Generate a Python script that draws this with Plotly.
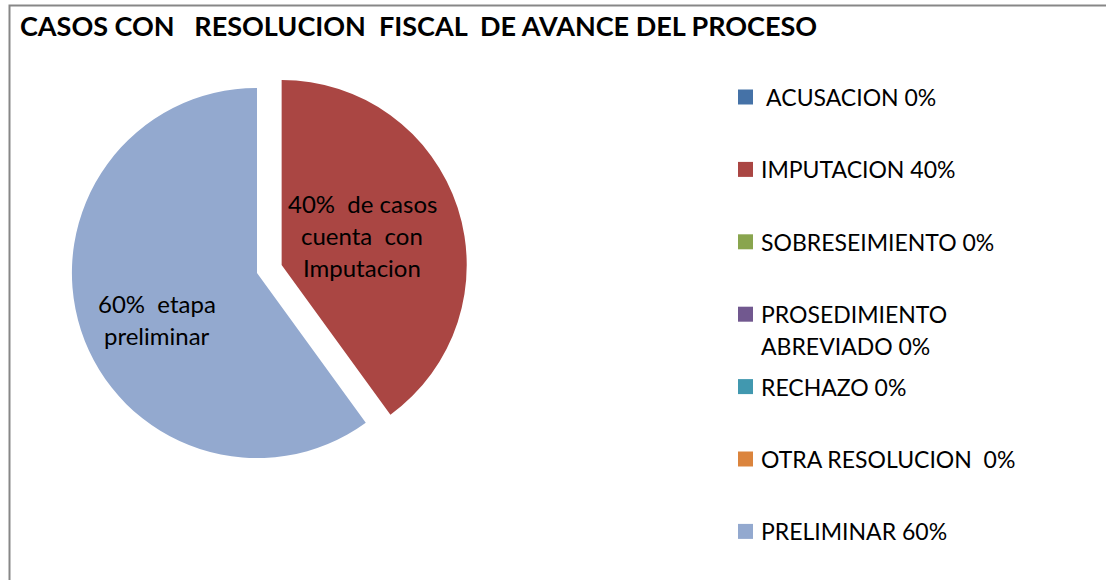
import plotly.graph_objects as go

# ---- data ----
title_text = "CASOS CON   RESOLUCION  FISCAL  DE AVANCE DEL PROCESO"
categories = ["ACUSACION", "IMPUTACION", "SOBRESEIMIENTO", "PROSEDIMIENTO ABREVIADO",
              "RECHAZO", "OTRA RESOLUCION", "PRELIMINAR"]
values = [0, 40, 0, 0, 0, 0, 60]
legend_labels = [" ACUSACION 0%", "IMPUTACION 40%", "SOBRESEIMIENTO 0%",
                 "PROSEDIMIENTO\nABREVIADO 0%", "RECHAZO 0%", "OTRA RESOLUCION  0%",
                 "PRELIMINAR 60%"]
slice_labels = ["", "40%  de casos\ncuenta  con\nImputacion", "", "", "", "",
                "60%  etapa\npreliminar"]
colors = ["#4572A7", "#AA4643", "#89A54E", "#71588F", "#4198AF", "#DB843D", "#93A9CF"]
pulls = [0, 0.14, 0, 0, 0, 0, 0]

# ---- layout helpers ----
W, H = 1106, 580
FONT = "Lato"


def px(x):
    return x / W


def py(y):
    return 1 - y / H


def keep_spaces(s):
    s = s.replace("  ", "\u00a0 ")
    if s.startswith(" "):
        s = "\u00a0" + s[1:]
    return s


fig = go.Figure()

fig.add_trace(go.Pie(
    labels=categories,
    values=values,
    sort=False,
    direction="clockwise",
    rotation=0,
    pull=pulls,
    marker=dict(colors=colors, line=dict(width=0)),
    textinfo="none",
    hoverinfo="label+percent",
    showlegend=False,
    domain=dict(x=[px(46), px(468)], y=[py(484), py(62)]),
))

annotations = []
shapes = []

# title
annotations.append(dict(
    text="<b>" + keep_spaces(title_text) + "</b>",
    x=px(18), y=py(26), xref="paper", yref="paper",
    xanchor="left", yanchor="middle", showarrow=False,
    font=dict(family=FONT, size=27, color="black"),
))

# slice labels (placed inside slices)
label_centres = {1: (362, 203), 6: (157, 303)}
LINE = 32
for i, txt in enumerate(slice_labels):
    if not txt:
        continue
    cx, cy = label_centres[i]
    for j, line in enumerate(txt.split("\n")):
        annotations.append(dict(
            text=keep_spaces(line),
            x=px(cx), y=py(cy + j * LINE), xref="paper", yref="paper",
            xanchor="center", yanchor="middle", showarrow=False,
            font=dict(family=FONT, size=24, color="black"),
        ))

# legend
LEG_Y0, LEG_STEP = 97, 72.4
for i, lab in enumerate(legend_labels):
    yc = LEG_Y0 + i * LEG_STEP
    shapes.append(dict(
        type="rect", xref="paper", yref="paper",
        x0=px(738), x1=px(753), y0=py(yc + 7.5), y1=py(yc - 7.5),
        fillcolor=colors[i], line=dict(width=0),
    ))
    for j, line in enumerate(lab.split("\n")):
        annotations.append(dict(
            text=keep_spaces(line),
            x=px(759), y=py(yc + j * 32), xref="paper", yref="paper",
            xanchor="left", yanchor="middle", showarrow=False,
            font=dict(family=FONT, size=23, color="black"),
        ))

# chart border (top and left visible)
shapes.append(dict(
    type="rect", xref="paper", yref="paper",
    x0=px(9.5), x1=px(W + 10), y0=py(H + 10), y1=py(5.5),
    line=dict(color="#878787", width=2), fillcolor="rgba(0,0,0,0)",
))

fig.update_layout(
    width=W, height=H,
    margin=dict(l=0, r=0, t=0, b=0),
    paper_bgcolor="white",
    plot_bgcolor="white",
    annotations=annotations,
    shapes=shapes,
    font=dict(family=FONT),
)

fig.write_html("out.html", config={"displayModeBar": False},
               post_script="document.body.style.margin='0';")
